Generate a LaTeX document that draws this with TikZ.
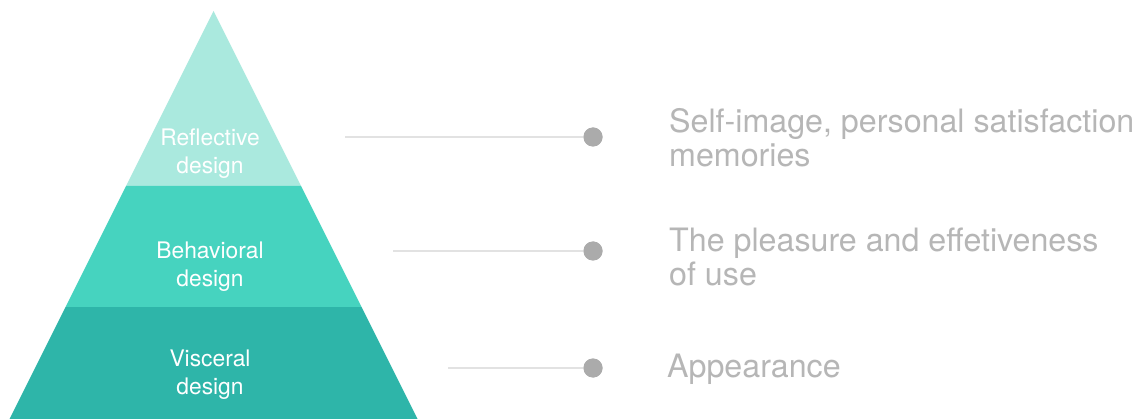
\documentclass[tikz,border=0pt]{standalone}
\usepackage{fontspec}
\setmainfont{TeX Gyre Heros}
\definecolor{topband}{RGB}{170,233,222}
\definecolor{midband}{RGB}{70,211,191}
\definecolor{lowband}{RGB}{46,181,169}
\definecolor{linegray}{RGB}{226,226,226}
\definecolor{dotgray}{RGB}{171,171,171}
\definecolor{txtgray}{RGB}{182,182,182}
\tikzset{
  band/.style={draw=none},
  levellabel/.style={text=white, align=center, inner sep=0pt, anchor=base,
    font=\fontsize{22.8}{28}\selectfont},
  desclabel/.style={text=txtgray, align=left, inner sep=0pt, anchor=base west,
    font=\fontsize{32.2}{34.5}\selectfont},
  leader/.style={draw=linegray, line width=2pt},
  dotmark/.style={circle, fill=dotgray, minimum size=19pt, inner sep=0pt}
}
\begin{document}
\begin{tikzpicture}[x=1pt,y=-1pt]
\useasboundingbox (0,0) rectangle (1147,419);
\fill[white] (0,0) rectangle (1147,419);
% pyramid bands
\fill[band, topband] (213.5,11) -- (301,186) -- (126,186) -- cycle;
\fill[band, midband] (126,186) -- (301,186) -- (361.5,307) -- (65.5,307) -- cycle;
\fill[band, lowband] (65.5,307) -- (361.5,307) -- (417.5,419) -- (9.5,419) -- cycle;
% level labels (base = baseline of last line)
\node[levellabel] (refl) at (210,174) {Reflective\\design};
\node[levellabel] (behav) at (210,286.5) {Behavioral\\design};
\node[levellabel] (visc) at (210,394) {Visceral\\design};
% leaders
\coordinate (s1) at (345,137);
\coordinate (s2) at (393,251);
\coordinate (s3) at (448,368);
\node[dotmark] (d1) at (593,137) {};
\node[dotmark] (d2) at (593,251) {};
\node[dotmark] (d3) at (593,368) {};
\draw[leader] (s1) -- (d1.center);
\draw[leader] (s2) -- (d2.center);
\draw[leader] (s3) -- (d3.center);
\node[dotmark] at (d1) {};
\node[dotmark] at (d2) {};
\node[dotmark] at (d3) {};
% descriptions (base = baseline of last line)
\node[desclabel] (t1) at (669,167) {Self-image, personal satisfaction\\memories};
\node[desclabel] (t2) at (669,286) {The pleasure and effetiveness\\of use};
\node[desclabel] (t3) at (667,377) {Appearance};
\end{tikzpicture}
\end{document}
